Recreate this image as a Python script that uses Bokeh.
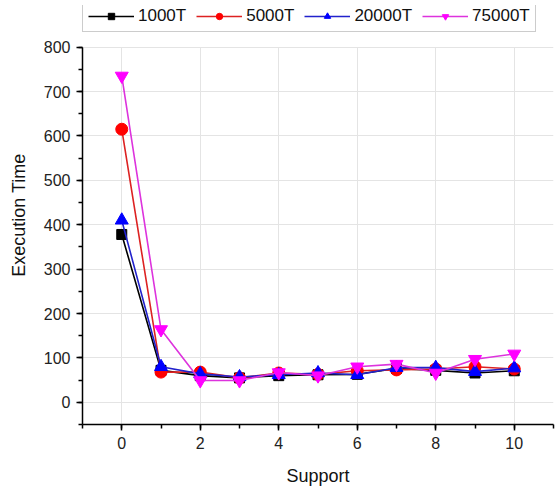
from bokeh.plotting import figure
from bokeh.models import Range1d, SingleIntervalTicker, Legend, LegendItem, BoxAnnotation
from bokeh.embed import file_html
from bokeh.resources import INLINE

support = [0, 1, 2, 3, 4, 5, 6, 7, 8, 9, 10]
t1000 = [378, 72, 60, 55, 60, 62, 63, 76, 72, 66, 71]
t5000 = [615, 68, 68, 55, 66, 63, 71, 73, 75, 80, 75]
t20000 = [410, 80, 64, 57, 62, 66, 62, 78, 78, 69, 77]
t75000 = [735, 164, 49, 49, 67, 60, 80, 86, 66, 97, 109]
labels = ["1000T", "5000T", "20000T", "75000T"]
y_min, y_max = -50, 800

FONT = "Liberation Sans"

# frame extends above the axis top so the legend (drawn in the frame) sits above the plot area
p = figure(width=557, height=488, output_backend="svg", toolbar_location=None,
           x_range=Range1d(y_min / 50 - 0, 11) if False else Range1d(-1, 11),
           y_range=Range1d(y_min, 893.7),
           min_border_left=82, min_border_right=4, min_border_top=5, min_border_bottom=60)
p.outline_line_color = None
p.background_fill_color = "white"

series = [
    (t1000, "black", "square", 10),
    (t5000, "#dd2222", "circle", 12),
    (t20000, "#2222cc", "triangle", 13),
    (t75000, "#dd33dd", "inverted_triangle", 13),
]
fills = ["black", "red", "blue", "magenta"]
items = []
for (ys, col, mk, sz), lab, fc in zip(series, labels, fills):
    l = p.line(support, ys, line_color=col, line_width=1.6)
    s = p.scatter(support, ys, marker=mk, size=sz, fill_color=fc, line_color=fc)
    items.append(LegendItem(label=lab, renderers=[l, s]))

for ax, interval in ((p.xaxis, 2), (p.yaxis, 100)):
    ax.ticker = SingleIntervalTicker(interval=interval, num_minor_ticks=2)
    ax.axis_line_color = "black"
    ax.axis_line_width = 1.5
    ax.major_tick_line_color = "black"
    ax.major_tick_line_width = 1.5
    ax.minor_tick_line_color = "black"
    ax.minor_tick_line_width = 1.5
    ax.major_tick_out = 6
    ax.major_tick_in = 0
    ax.minor_tick_out = 4
    ax.minor_tick_in = 0
    ax.major_label_text_font = FONT
    ax.major_label_text_font_size = "16px"
    ax.major_label_text_color = "#222222"
    ax.axis_label_text_font = FONT
    ax.axis_label_text_font_size = "18px"
    ax.axis_label_text_font_style = "normal"
    ax.axis_label_text_color = "#111111"

p.yaxis.bounds = (y_min, y_max)
p.xaxis.axis_label = "Support"
p.yaxis.axis_label = "Execution Time"
p.xaxis.major_label_standoff = 6
p.yaxis.major_label_standoff = 6
p.xaxis.axis_label_standoff = 14
p.yaxis.axis_label_standoff = 12

p.xgrid.ticker = p.xaxis[0].ticker
p.ygrid.ticker = p.yaxis[0].ticker
p.grid.grid_line_color = "#e4e4e4"
p.grid.grid_line_width = 1

# hide grid lines above the top of the y axis
mask = BoxAnnotation(bottom=y_max, fill_color="white", fill_alpha=1, line_color=None, level="underlay")
p.add_layout(mask)

legend = Legend(items=items, orientation="horizontal", location=(0, 392),
                label_text_font=FONT, label_text_font_size="17px",
                label_text_color="#111111",
                glyph_width=46, glyph_height=16, label_standoff=4, spacing=10,
                padding=5, margin=0, border_line_color="#999999", border_line_width=1.5,
                background_fill_color="white", background_fill_alpha=1)
p.add_layout(legend, "center")

open("out.html", "w").write(file_html(p, INLINE))
